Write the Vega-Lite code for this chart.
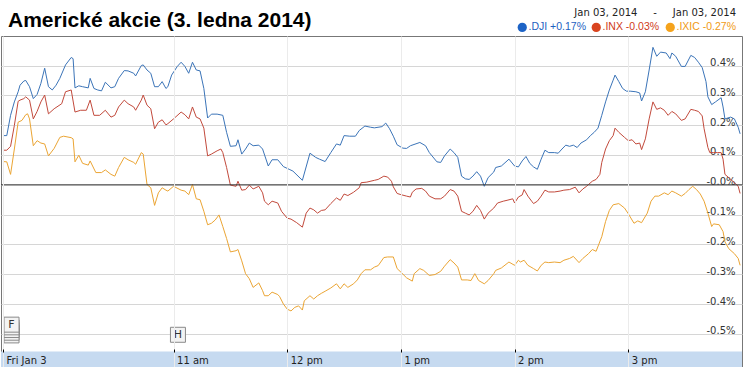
{
  "$schema": "https://vega.github.io/schema/vega-lite/v6.json",
  "width": 743,
  "height": 367,
  "autosize": {"type": "fit", "contains": "padding"},
  "padding": {"top": 10, "bottom": 0, "left": 0, "right": 0},
  "background": "white",
  "title": {"text": "Americké akcie (3. ledna 2014)", "anchor": "start", "frame": "group", "font": "Liberation Sans", "fontSize": 21, "fontWeight": "bold", "color": "#000000", "baseline": "alphabetic", "offset": -12, "dx": 7},
  "config": {"view": {"stroke": "#777777", "strokeWidth": 1}},
  "datasets": {
    "prices": [
{"s":".DJI","t":"2014-01-03T09:30","v":0.165},{"s":".DJI","t":"2014-01-03T09:32","v":0.165},{"s":".DJI","t":"2014-01-03T09:34","v":0.233},{"s":".DJI","t":"2014-01-03T09:36","v":0.278},{"s":".DJI","t":"2014-01-03T09:38","v":0.312},{"s":".DJI","t":"2014-01-03T09:39","v":0.334},{"s":".DJI","t":"2014-01-03T09:41","v":0.348},{"s":".DJI","t":"2014-01-03T09:42","v":0.350},{"s":".DJI","t":"2014-01-03T09:44","v":0.329},{"s":".DJI","t":"2014-01-03T09:46","v":0.289},{"s":".DJI","t":"2014-01-03T09:48","v":0.303},{"s":".DJI","t":"2014-01-03T09:50","v":0.340},{"s":".DJI","t":"2014-01-03T09:52","v":0.391},{"s":".DJI","t":"2014-01-03T09:54","v":0.329},{"s":".DJI","t":"2014-01-03T09:56","v":0.318},{"s":".DJI","t":"2014-01-03T09:58","v":0.334},{"s":".DJI","t":"2014-01-03T10:00","v":0.357},{"s":".DJI","t":"2014-01-03T10:03","v":0.402},{"s":".DJI","t":"2014-01-03T10:06","v":0.427},{"s":".DJI","t":"2014-01-03T10:07","v":0.423},{"s":".DJI","t":"2014-01-03T10:08","v":0.325},{"s":".DJI","t":"2014-01-03T10:10","v":0.332},{"s":".DJI","t":"2014-01-03T10:12","v":0.329},{"s":".DJI","t":"2014-01-03T10:15","v":0.325},{"s":".DJI","t":"2014-01-03T10:16","v":0.357},{"s":".DJI","t":"2014-01-03T10:18","v":0.323},{"s":".DJI","t":"2014-01-03T10:20","v":0.318},{"s":".DJI","t":"2014-01-03T10:22","v":0.315},{"s":".DJI","t":"2014-01-03T10:24","v":0.344},{"s":".DJI","t":"2014-01-03T10:27","v":0.325},{"s":".DJI","t":"2014-01-03T10:29","v":0.329},{"s":".DJI","t":"2014-01-03T10:31","v":0.357},{"s":".DJI","t":"2014-01-03T10:34","v":0.383},{"s":".DJI","t":"2014-01-03T10:36","v":0.382},{"s":".DJI","t":"2014-01-03T10:39","v":0.374},{"s":".DJI","t":"2014-01-03T10:40","v":0.365},{"s":".DJI","t":"2014-01-03T10:43","v":0.400},{"s":".DJI","t":"2014-01-03T10:44","v":0.402},{"s":".DJI","t":"2014-01-03T10:46","v":0.385},{"s":".DJI","t":"2014-01-03T10:48","v":0.374},{"s":".DJI","t":"2014-01-03T10:50","v":0.329},{"s":".DJI","t":"2014-01-03T10:52","v":0.329},{"s":".DJI","t":"2014-01-03T10:54","v":0.346},{"s":".DJI","t":"2014-01-03T10:56","v":0.323},{"s":".DJI","t":"2014-01-03T10:57","v":0.329},{"s":".DJI","t":"2014-01-03T10:59","v":0.368},{"s":".DJI","t":"2014-01-03T11:02","v":0.397},{"s":".DJI","t":"2014-01-03T11:04","v":0.411},{"s":".DJI","t":"2014-01-03T11:06","v":0.397},{"s":".DJI","t":"2014-01-03T11:08","v":0.374},{"s":".DJI","t":"2014-01-03T11:10","v":0.411},{"s":".DJI","t":"2014-01-03T11:12","v":0.385},{"s":".DJI","t":"2014-01-03T11:14","v":0.382},{"s":".DJI","t":"2014-01-03T11:16","v":0.323},{"s":".DJI","t":"2014-01-03T11:18","v":0.224},{"s":".DJI","t":"2014-01-03T11:20","v":0.237},{"s":".DJI","t":"2014-01-03T11:23","v":0.237},{"s":".DJI","t":"2014-01-03T11:26","v":0.233},{"s":".DJI","t":"2014-01-03T11:28","v":0.176},{"s":".DJI","t":"2014-01-03T11:30","v":0.129},{"s":".DJI","t":"2014-01-03T11:33","v":0.131},{"s":".DJI","t":"2014-01-03T11:34","v":0.151},{"s":".DJI","t":"2014-01-03T11:36","v":0.103},{"s":".DJI","t":"2014-01-03T11:38","v":0.120},{"s":".DJI","t":"2014-01-03T11:40","v":0.140},{"s":".DJI","t":"2014-01-03T11:42","v":0.131},{"s":".DJI","t":"2014-01-03T11:45","v":0.133},{"s":".DJI","t":"2014-01-03T11:47","v":0.120},{"s":".DJI","t":"2014-01-03T11:50","v":0.063},{"s":".DJI","t":"2014-01-03T11:52","v":0.084},{"s":".DJI","t":"2014-01-03T11:55","v":0.084},{"s":".DJI","t":"2014-01-03T11:58","v":0.061},{"s":".DJI","t":"2014-01-03T12:01","v":0.052},{"s":".DJI","t":"2014-01-03T12:03","v":0.046},{"s":".DJI","t":"2014-01-03T12:08","v":0.015},{"s":".DJI","t":"2014-01-03T12:12","v":0.106},{"s":".DJI","t":"2014-01-03T12:15","v":0.092},{"s":".DJI","t":"2014-01-03T12:17","v":0.086},{"s":".DJI","t":"2014-01-03T12:20","v":0.078},{"s":".DJI","t":"2014-01-03T12:23","v":0.108},{"s":".DJI","t":"2014-01-03T12:26","v":0.137},{"s":".DJI","t":"2014-01-03T12:28","v":0.133},{"s":".DJI","t":"2014-01-03T12:30","v":0.165},{"s":".DJI","t":"2014-01-03T12:33","v":0.163},{"s":".DJI","t":"2014-01-03T12:36","v":0.163},{"s":".DJI","t":"2014-01-03T12:38","v":0.182},{"s":".DJI","t":"2014-01-03T12:41","v":0.197},{"s":".DJI","t":"2014-01-03T12:44","v":0.193},{"s":".DJI","t":"2014-01-03T12:46","v":0.191},{"s":".DJI","t":"2014-01-03T12:50","v":0.195},{"s":".DJI","t":"2014-01-03T12:52","v":0.207},{"s":".DJI","t":"2014-01-03T12:54","v":0.188},{"s":".DJI","t":"2014-01-03T12:56","v":0.163},{"s":".DJI","t":"2014-01-03T12:58","v":0.134},{"s":".DJI","t":"2014-01-03T13:01","v":0.123},{"s":".DJI","t":"2014-01-03T13:03","v":0.122},{"s":".DJI","t":"2014-01-03T13:05","v":0.131},{"s":".DJI","t":"2014-01-03T13:10","v":0.142},{"s":".DJI","t":"2014-01-03T13:13","v":0.131},{"s":".DJI","t":"2014-01-03T13:15","v":0.108},{"s":".DJI","t":"2014-01-03T13:19","v":0.077},{"s":".DJI","t":"2014-01-03T13:21","v":0.075},{"s":".DJI","t":"2014-01-03T13:23","v":0.097},{"s":".DJI","t":"2014-01-03T13:26","v":0.120},{"s":".DJI","t":"2014-01-03T13:28","v":0.108},{"s":".DJI","t":"2014-01-03T13:30","v":0.092},{"s":".DJI","t":"2014-01-03T13:32","v":0.029},{"s":".DJI","t":"2014-01-03T13:34","v":0.020},{"s":".DJI","t":"2014-01-03T13:36","v":0.018},{"s":".DJI","t":"2014-01-03T13:38","v":0.029},{"s":".DJI","t":"2014-01-03T13:40","v":0.044},{"s":".DJI","t":"2014-01-03T13:42","v":0.029},{"s":".DJI","t":"2014-01-03T13:44","v":-0.005},{"s":".DJI","t":"2014-01-03T13:46","v":0.024},{"s":".DJI","t":"2014-01-03T13:49","v":0.043},{"s":".DJI","t":"2014-01-03T13:50","v":0.058},{"s":".DJI","t":"2014-01-03T13:53","v":0.063},{"s":".DJI","t":"2014-01-03T13:56","v":0.080},{"s":".DJI","t":"2014-01-03T13:57","v":0.086},{"s":".DJI","t":"2014-01-03T14:00","v":0.063},{"s":".DJI","t":"2014-01-03T14:02","v":0.060},{"s":".DJI","t":"2014-01-03T14:04","v":0.080},{"s":".DJI","t":"2014-01-03T14:06","v":0.095},{"s":".DJI","t":"2014-01-03T14:08","v":0.072},{"s":".DJI","t":"2014-01-03T14:10","v":0.060},{"s":".DJI","t":"2014-01-03T14:12","v":0.052},{"s":".DJI","t":"2014-01-03T14:14","v":0.086},{"s":".DJI","t":"2014-01-03T14:16","v":0.116},{"s":".DJI","t":"2014-01-03T14:18","v":0.108},{"s":".DJI","t":"2014-01-03T14:21","v":0.108},{"s":".DJI","t":"2014-01-03T14:23","v":0.106},{"s":".DJI","t":"2014-01-03T14:25","v":0.120},{"s":".DJI","t":"2014-01-03T14:27","v":0.133},{"s":".DJI","t":"2014-01-03T14:29","v":0.129},{"s":".DJI","t":"2014-01-03T14:31","v":0.133},{"s":".DJI","t":"2014-01-03T14:33","v":0.125},{"s":".DJI","t":"2014-01-03T14:35","v":0.140},{"s":".DJI","t":"2014-01-03T14:38","v":0.151},{"s":".DJI","t":"2014-01-03T14:40","v":0.165},{"s":".DJI","t":"2014-01-03T14:42","v":0.176},{"s":".DJI","t":"2014-01-03T14:44","v":0.190},{"s":".DJI","t":"2014-01-03T14:46","v":0.233},{"s":".DJI","t":"2014-01-03T14:48","v":0.278},{"s":".DJI","t":"2014-01-03T14:50","v":0.318},{"s":".DJI","t":"2014-01-03T14:52","v":0.351},{"s":".DJI","t":"2014-01-03T14:53","v":0.368},{"s":".DJI","t":"2014-01-03T14:55","v":0.346},{"s":".DJI","t":"2014-01-03T14:57","v":0.323},{"s":".DJI","t":"2014-01-03T14:59","v":0.314},{"s":".DJI","t":"2014-01-03T15:01","v":0.314},{"s":".DJI","t":"2014-01-03T15:04","v":0.312},{"s":".DJI","t":"2014-01-03T15:06","v":0.308},{"s":".DJI","t":"2014-01-03T15:07","v":0.281},{"s":".DJI","t":"2014-01-03T15:09","v":0.312},{"s":".DJI","t":"2014-01-03T15:11","v":0.385},{"s":".DJI","t":"2014-01-03T15:13","v":0.461},{"s":".DJI","t":"2014-01-03T15:15","v":0.431},{"s":".DJI","t":"2014-01-03T15:17","v":0.445},{"s":".DJI","t":"2014-01-03T15:20","v":0.442},{"s":".DJI","t":"2014-01-03T15:22","v":0.423},{"s":".DJI","t":"2014-01-03T15:23","v":0.442},{"s":".DJI","t":"2014-01-03T15:25","v":0.431},{"s":".DJI","t":"2014-01-03T15:28","v":0.397},{"s":".DJI","t":"2014-01-03T15:30","v":0.397},{"s":".DJI","t":"2014-01-03T15:33","v":0.434},{"s":".DJI","t":"2014-01-03T15:35","v":0.427},{"s":".DJI","t":"2014-01-03T15:37","v":0.411},{"s":".DJI","t":"2014-01-03T15:39","v":0.393},{"s":".DJI","t":"2014-01-03T15:41","v":0.346},{"s":".DJI","t":"2014-01-03T15:42","v":0.295},{"s":".DJI","t":"2014-01-03T15:44","v":0.269},{"s":".DJI","t":"2014-01-03T15:46","v":0.278},{"s":".DJI","t":"2014-01-03T15:49","v":0.292},{"s":".DJI","t":"2014-01-03T15:50","v":0.261},{"s":".DJI","t":"2014-01-03T15:51","v":0.221},{"s":".DJI","t":"2014-01-03T15:54","v":0.227},{"s":".DJI","t":"2014-01-03T15:56","v":0.221},{"s":".DJI","t":"2014-01-03T15:58","v":0.193},{"s":".DJI","t":"2014-01-03T15:59","v":0.171},
{"s":".INX","t":"2014-01-03T09:30","v":0.116},{"s":".INX","t":"2014-01-03T09:32","v":0.116},{"s":".INX","t":"2014-01-03T09:34","v":0.129},{"s":".INX","t":"2014-01-03T09:36","v":0.199},{"s":".INX","t":"2014-01-03T09:38","v":0.280},{"s":".INX","t":"2014-01-03T09:39","v":0.284},{"s":".INX","t":"2014-01-03T09:41","v":0.289},{"s":".INX","t":"2014-01-03T09:42","v":0.295},{"s":".INX","t":"2014-01-03T09:44","v":0.284},{"s":".INX","t":"2014-01-03T09:46","v":0.221},{"s":".INX","t":"2014-01-03T09:48","v":0.246},{"s":".INX","t":"2014-01-03T09:50","v":0.278},{"s":".INX","t":"2014-01-03T09:52","v":0.301},{"s":".INX","t":"2014-01-03T09:54","v":0.238},{"s":".INX","t":"2014-01-03T09:57","v":0.255},{"s":".INX","t":"2014-01-03T10:01","v":0.272},{"s":".INX","t":"2014-01-03T10:03","v":0.312},{"s":".INX","t":"2014-01-03T10:06","v":0.318},{"s":".INX","t":"2014-01-03T10:08","v":0.244},{"s":".INX","t":"2014-01-03T10:11","v":0.250},{"s":".INX","t":"2014-01-03T10:14","v":0.250},{"s":".INX","t":"2014-01-03T10:16","v":0.284},{"s":".INX","t":"2014-01-03T10:18","v":0.233},{"s":".INX","t":"2014-01-03T10:21","v":0.233},{"s":".INX","t":"2014-01-03T10:24","v":0.250},{"s":".INX","t":"2014-01-03T10:27","v":0.227},{"s":".INX","t":"2014-01-03T10:29","v":0.233},{"s":".INX","t":"2014-01-03T10:31","v":0.261},{"s":".INX","t":"2014-01-03T10:34","v":0.284},{"s":".INX","t":"2014-01-03T10:36","v":0.272},{"s":".INX","t":"2014-01-03T10:39","v":0.261},{"s":".INX","t":"2014-01-03T10:40","v":0.250},{"s":".INX","t":"2014-01-03T10:43","v":0.284},{"s":".INX","t":"2014-01-03T10:44","v":0.301},{"s":".INX","t":"2014-01-03T10:46","v":0.267},{"s":".INX","t":"2014-01-03T10:48","v":0.255},{"s":".INX","t":"2014-01-03T10:50","v":0.188},{"s":".INX","t":"2014-01-03T10:52","v":0.210},{"s":".INX","t":"2014-01-03T10:54","v":0.218},{"s":".INX","t":"2014-01-03T10:56","v":0.201},{"s":".INX","t":"2014-01-03T10:57","v":0.205},{"s":".INX","t":"2014-01-03T11:00","v":0.221},{"s":".INX","t":"2014-01-03T11:04","v":0.244},{"s":".INX","t":"2014-01-03T11:06","v":0.235},{"s":".INX","t":"2014-01-03T11:08","v":0.221},{"s":".INX","t":"2014-01-03T11:10","v":0.261},{"s":".INX","t":"2014-01-03T11:12","v":0.227},{"s":".INX","t":"2014-01-03T11:14","v":0.221},{"s":".INX","t":"2014-01-03T11:16","v":0.190},{"s":".INX","t":"2014-01-03T11:18","v":0.097},{"s":".INX","t":"2014-01-03T11:20","v":0.103},{"s":".INX","t":"2014-01-03T11:23","v":0.114},{"s":".INX","t":"2014-01-03T11:25","v":0.120},{"s":".INX","t":"2014-01-03T11:26","v":0.108},{"s":".INX","t":"2014-01-03T11:28","v":0.058},{"s":".INX","t":"2014-01-03T11:30","v":-0.001},{"s":".INX","t":"2014-01-03T11:33","v":-0.005},{"s":".INX","t":"2014-01-03T11:34","v":0.012},{"s":".INX","t":"2014-01-03T11:36","v":-0.018},{"s":".INX","t":"2014-01-03T11:38","v":-0.016},{"s":".INX","t":"2014-01-03T11:40","v":-0.001},{"s":".INX","t":"2014-01-03T11:42","v":-0.014},{"s":".INX","t":"2014-01-03T11:45","v":-0.005},{"s":".INX","t":"2014-01-03T11:47","v":-0.027},{"s":".INX","t":"2014-01-03T11:48","v":-0.055},{"s":".INX","t":"2014-01-03T11:50","v":-0.067},{"s":".INX","t":"2014-01-03T11:52","v":-0.055},{"s":".INX","t":"2014-01-03T11:55","v":-0.061},{"s":".INX","t":"2014-01-03T11:57","v":-0.089},{"s":".INX","t":"2014-01-03T12:00","v":-0.112},{"s":".INX","t":"2014-01-03T12:02","v":-0.115},{"s":".INX","t":"2014-01-03T12:05","v":-0.127},{"s":".INX","t":"2014-01-03T12:08","v":-0.142},{"s":".INX","t":"2014-01-03T12:10","v":-0.095},{"s":".INX","t":"2014-01-03T12:12","v":-0.078},{"s":".INX","t":"2014-01-03T12:14","v":-0.084},{"s":".INX","t":"2014-01-03T12:16","v":-0.095},{"s":".INX","t":"2014-01-03T12:18","v":-0.086},{"s":".INX","t":"2014-01-03T12:20","v":-0.084},{"s":".INX","t":"2014-01-03T12:23","v":-0.063},{"s":".INX","t":"2014-01-03T12:26","v":-0.044},{"s":".INX","t":"2014-01-03T12:28","v":-0.052},{"s":".INX","t":"2014-01-03T12:30","v":-0.031},{"s":".INX","t":"2014-01-03T12:32","v":-0.036},{"s":".INX","t":"2014-01-03T12:35","v":-0.025},{"s":".INX","t":"2014-01-03T12:38","v":-0.010},{"s":".INX","t":"2014-01-03T12:39","v":0.007},{"s":".INX","t":"2014-01-03T12:42","v":0.009},{"s":".INX","t":"2014-01-03T12:46","v":0.015},{"s":".INX","t":"2014-01-03T12:48","v":0.018},{"s":".INX","t":"2014-01-03T12:51","v":0.029},{"s":".INX","t":"2014-01-03T12:53","v":0.026},{"s":".INX","t":"2014-01-03T12:55","v":0.012},{"s":".INX","t":"2014-01-03T12:56","v":-0.007},{"s":".INX","t":"2014-01-03T12:58","v":-0.029},{"s":".INX","t":"2014-01-03T13:00","v":-0.033},{"s":".INX","t":"2014-01-03T13:03","v":-0.038},{"s":".INX","t":"2014-01-03T13:05","v":-0.041},{"s":".INX","t":"2014-01-03T13:06","v":-0.025},{"s":".INX","t":"2014-01-03T13:08","v":-0.014},{"s":".INX","t":"2014-01-03T13:11","v":-0.012},{"s":".INX","t":"2014-01-03T13:13","v":-0.021},{"s":".INX","t":"2014-01-03T13:15","v":-0.038},{"s":".INX","t":"2014-01-03T13:18","v":-0.047},{"s":".INX","t":"2014-01-03T13:21","v":-0.047},{"s":".INX","t":"2014-01-03T13:23","v":-0.038},{"s":".INX","t":"2014-01-03T13:26","v":-0.016},{"s":".INX","t":"2014-01-03T13:28","v":-0.021},{"s":".INX","t":"2014-01-03T13:30","v":-0.038},{"s":".INX","t":"2014-01-03T13:32","v":-0.089},{"s":".INX","t":"2014-01-03T13:34","v":-0.095},{"s":".INX","t":"2014-01-03T13:36","v":-0.101},{"s":".INX","t":"2014-01-03T13:38","v":-0.089},{"s":".INX","t":"2014-01-03T13:40","v":-0.069},{"s":".INX","t":"2014-01-03T13:42","v":-0.086},{"s":".INX","t":"2014-01-03T13:44","v":-0.115},{"s":".INX","t":"2014-01-03T13:46","v":-0.095},{"s":".INX","t":"2014-01-03T13:49","v":-0.078},{"s":".INX","t":"2014-01-03T13:51","v":-0.061},{"s":".INX","t":"2014-01-03T13:54","v":-0.055},{"s":".INX","t":"2014-01-03T13:56","v":-0.052},{"s":".INX","t":"2014-01-03T13:59","v":-0.047},{"s":".INX","t":"2014-01-03T14:00","v":-0.061},{"s":".INX","t":"2014-01-03T14:02","v":-0.041},{"s":".INX","t":"2014-01-03T14:04","v":-0.034},{"s":".INX","t":"2014-01-03T14:05","v":-0.016},{"s":".INX","t":"2014-01-03T14:07","v":-0.038},{"s":".INX","t":"2014-01-03T14:09","v":-0.055},{"s":".INX","t":"2014-01-03T14:10","v":-0.063},{"s":".INX","t":"2014-01-03T14:12","v":-0.055},{"s":".INX","t":"2014-01-03T14:14","v":-0.038},{"s":".INX","t":"2014-01-03T14:16","v":-0.018},{"s":".INX","t":"2014-01-03T14:18","v":-0.024},{"s":".INX","t":"2014-01-03T14:21","v":-0.024},{"s":".INX","t":"2014-01-03T14:24","v":-0.021},{"s":".INX","t":"2014-01-03T14:26","v":-0.018},{"s":".INX","t":"2014-01-03T14:29","v":-0.016},{"s":".INX","t":"2014-01-03T14:32","v":-0.008},{"s":".INX","t":"2014-01-03T14:34","v":-0.027},{"s":".INX","t":"2014-01-03T14:36","v":-0.014},{"s":".INX","t":"2014-01-03T14:38","v":-0.005},{"s":".INX","t":"2014-01-03T14:39","v":0.001},{"s":".INX","t":"2014-01-03T14:41","v":0.012},{"s":".INX","t":"2014-01-03T14:43","v":0.018},{"s":".INX","t":"2014-01-03T14:45","v":0.035},{"s":".INX","t":"2014-01-03T14:46","v":0.075},{"s":".INX","t":"2014-01-03T14:48","v":0.120},{"s":".INX","t":"2014-01-03T14:50","v":0.148},{"s":".INX","t":"2014-01-03T14:52","v":0.165},{"s":".INX","t":"2014-01-03T14:53","v":0.190},{"s":".INX","t":"2014-01-03T14:55","v":0.176},{"s":".INX","t":"2014-01-03T14:58","v":0.159},{"s":".INX","t":"2014-01-03T15:00","v":0.148},{"s":".INX","t":"2014-01-03T15:02","v":0.151},{"s":".INX","t":"2014-01-03T15:04","v":0.137},{"s":".INX","t":"2014-01-03T15:06","v":0.140},{"s":".INX","t":"2014-01-03T15:07","v":0.118},{"s":".INX","t":"2014-01-03T15:09","v":0.154},{"s":".INX","t":"2014-01-03T15:11","v":0.221},{"s":".INX","t":"2014-01-03T15:13","v":0.278},{"s":".INX","t":"2014-01-03T15:15","v":0.253},{"s":".INX","t":"2014-01-03T15:17","v":0.258},{"s":".INX","t":"2014-01-03T15:19","v":0.250},{"s":".INX","t":"2014-01-03T15:21","v":0.233},{"s":".INX","t":"2014-01-03T15:23","v":0.246},{"s":".INX","t":"2014-01-03T15:25","v":0.238},{"s":".INX","t":"2014-01-03T15:28","v":0.216},{"s":".INX","t":"2014-01-03T15:30","v":0.221},{"s":".INX","t":"2014-01-03T15:33","v":0.253},{"s":".INX","t":"2014-01-03T15:35","v":0.250},{"s":".INX","t":"2014-01-03T15:37","v":0.246},{"s":".INX","t":"2014-01-03T15:39","v":0.231},{"s":".INX","t":"2014-01-03T15:40","v":0.188},{"s":".INX","t":"2014-01-03T15:42","v":0.125},{"s":".INX","t":"2014-01-03T15:43","v":0.108},{"s":".INX","t":"2014-01-03T15:45","v":0.108},{"s":".INX","t":"2014-01-03T15:47","v":0.108},{"s":".INX","t":"2014-01-03T15:49","v":0.108},{"s":".INX","t":"2014-01-03T15:50","v":0.086},{"s":".INX","t":"2014-01-03T15:51","v":0.035},{"s":".INX","t":"2014-01-03T15:53","v":0.024},{"s":".INX","t":"2014-01-03T15:56","v":0.007},{"s":".INX","t":"2014-01-03T15:58","v":-0.005},{"s":".INX","t":"2014-01-03T15:59","v":-0.029},
{"s":".IXIC","t":"2014-01-03T09:30","v":0.078},{"s":".IXIC","t":"2014-01-03T09:32","v":0.077},{"s":".IXIC","t":"2014-01-03T09:34","v":0.035},{"s":".IXIC","t":"2014-01-03T09:36","v":0.120},{"s":".IXIC","t":"2014-01-03T09:38","v":0.210},{"s":".IXIC","t":"2014-01-03T09:40","v":0.216},{"s":".IXIC","t":"2014-01-03T09:42","v":0.235},{"s":".IXIC","t":"2014-01-03T09:43","v":0.238},{"s":".IXIC","t":"2014-01-03T09:44","v":0.221},{"s":".IXIC","t":"2014-01-03T09:46","v":0.131},{"s":".IXIC","t":"2014-01-03T09:48","v":0.148},{"s":".IXIC","t":"2014-01-03T09:50","v":0.140},{"s":".IXIC","t":"2014-01-03T09:52","v":0.137},{"s":".IXIC","t":"2014-01-03T09:54","v":0.097},{"s":".IXIC","t":"2014-01-03T09:57","v":0.122},{"s":".IXIC","t":"2014-01-03T10:00","v":0.159},{"s":".IXIC","t":"2014-01-03T10:02","v":0.163},{"s":".IXIC","t":"2014-01-03T10:06","v":0.158},{"s":".IXIC","t":"2014-01-03T10:07","v":0.154},{"s":".IXIC","t":"2014-01-03T10:08","v":0.077},{"s":".IXIC","t":"2014-01-03T10:10","v":0.099},{"s":".IXIC","t":"2014-01-03T10:12","v":0.072},{"s":".IXIC","t":"2014-01-03T10:15","v":0.066},{"s":".IXIC","t":"2014-01-03T10:16","v":0.080},{"s":".IXIC","t":"2014-01-03T10:19","v":0.041},{"s":".IXIC","t":"2014-01-03T10:22","v":0.041},{"s":".IXIC","t":"2014-01-03T10:24","v":0.050},{"s":".IXIC","t":"2014-01-03T10:27","v":0.035},{"s":".IXIC","t":"2014-01-03T10:29","v":0.029},{"s":".IXIC","t":"2014-01-03T10:31","v":0.058},{"s":".IXIC","t":"2014-01-03T10:34","v":0.092},{"s":".IXIC","t":"2014-01-03T10:36","v":0.084},{"s":".IXIC","t":"2014-01-03T10:39","v":0.075},{"s":".IXIC","t":"2014-01-03T10:40","v":0.069},{"s":".IXIC","t":"2014-01-03T10:43","v":0.108},{"s":".IXIC","t":"2014-01-03T10:44","v":0.103},{"s":".IXIC","t":"2014-01-03T10:46","v":0.001},{"s":".IXIC","t":"2014-01-03T10:48","v":-0.010},{"s":".IXIC","t":"2014-01-03T10:50","v":-0.069},{"s":".IXIC","t":"2014-01-03T10:52","v":-0.027},{"s":".IXIC","t":"2014-01-03T10:54","v":-0.010},{"s":".IXIC","t":"2014-01-03T10:56","v":-0.018},{"s":".IXIC","t":"2014-01-03T10:57","v":-0.021},{"s":".IXIC","t":"2014-01-03T11:00","v":-0.005},{"s":".IXIC","t":"2014-01-03T11:04","v":-0.018},{"s":".IXIC","t":"2014-01-03T11:06","v":-0.021},{"s":".IXIC","t":"2014-01-03T11:08","v":-0.033},{"s":".IXIC","t":"2014-01-03T11:10","v":0.001},{"s":".IXIC","t":"2014-01-03T11:12","v":-0.047},{"s":".IXIC","t":"2014-01-03T11:14","v":-0.050},{"s":".IXIC","t":"2014-01-03T11:16","v":-0.089},{"s":".IXIC","t":"2014-01-03T11:18","v":-0.134},{"s":".IXIC","t":"2014-01-03T11:20","v":-0.129},{"s":".IXIC","t":"2014-01-03T11:22","v":-0.118},{"s":".IXIC","t":"2014-01-03T11:24","v":-0.101},{"s":".IXIC","t":"2014-01-03T11:26","v":-0.140},{"s":".IXIC","t":"2014-01-03T11:28","v":-0.180},{"s":".IXIC","t":"2014-01-03T11:30","v":-0.225},{"s":".IXIC","t":"2014-01-03T11:33","v":-0.221},{"s":".IXIC","t":"2014-01-03T11:34","v":-0.217},{"s":".IXIC","t":"2014-01-03T11:36","v":-0.255},{"s":".IXIC","t":"2014-01-03T11:38","v":-0.298},{"s":".IXIC","t":"2014-01-03T11:40","v":-0.315},{"s":".IXIC","t":"2014-01-03T11:42","v":-0.344},{"s":".IXIC","t":"2014-01-03T11:45","v":-0.329},{"s":".IXIC","t":"2014-01-03T11:47","v":-0.355},{"s":".IXIC","t":"2014-01-03T11:48","v":-0.372},{"s":".IXIC","t":"2014-01-03T11:50","v":-0.372},{"s":".IXIC","t":"2014-01-03T11:52","v":-0.360},{"s":".IXIC","t":"2014-01-03T11:55","v":-0.368},{"s":".IXIC","t":"2014-01-03T11:56","v":-0.375},{"s":".IXIC","t":"2014-01-03T11:58","v":-0.400},{"s":".IXIC","t":"2014-01-03T12:00","v":-0.417},{"s":".IXIC","t":"2014-01-03T12:02","v":-0.423},{"s":".IXIC","t":"2014-01-03T12:04","v":-0.411},{"s":".IXIC","t":"2014-01-03T12:06","v":-0.406},{"s":".IXIC","t":"2014-01-03T12:08","v":-0.420},{"s":".IXIC","t":"2014-01-03T12:09","v":-0.389},{"s":".IXIC","t":"2014-01-03T12:12","v":-0.372},{"s":".IXIC","t":"2014-01-03T12:14","v":-0.383},{"s":".IXIC","t":"2014-01-03T12:16","v":-0.372},{"s":".IXIC","t":"2014-01-03T12:18","v":-0.364},{"s":".IXIC","t":"2014-01-03T12:20","v":-0.357},{"s":".IXIC","t":"2014-01-03T12:23","v":-0.346},{"s":".IXIC","t":"2014-01-03T12:26","v":-0.332},{"s":".IXIC","t":"2014-01-03T12:28","v":-0.349},{"s":".IXIC","t":"2014-01-03T12:30","v":-0.332},{"s":".IXIC","t":"2014-01-03T12:32","v":-0.344},{"s":".IXIC","t":"2014-01-03T12:35","v":-0.332},{"s":".IXIC","t":"2014-01-03T12:37","v":-0.319},{"s":".IXIC","t":"2014-01-03T12:39","v":-0.298},{"s":".IXIC","t":"2014-01-03T12:41","v":-0.285},{"s":".IXIC","t":"2014-01-03T12:44","v":-0.285},{"s":".IXIC","t":"2014-01-03T12:46","v":-0.276},{"s":".IXIC","t":"2014-01-03T12:48","v":-0.271},{"s":".IXIC","t":"2014-01-03T12:51","v":-0.244},{"s":".IXIC","t":"2014-01-03T12:53","v":-0.242},{"s":".IXIC","t":"2014-01-03T12:56","v":-0.242},{"s":".IXIC","t":"2014-01-03T12:58","v":-0.281},{"s":".IXIC","t":"2014-01-03T13:00","v":-0.293},{"s":".IXIC","t":"2014-01-03T13:03","v":-0.312},{"s":".IXIC","t":"2014-01-03T13:06","v":-0.323},{"s":".IXIC","t":"2014-01-03T13:07","v":-0.298},{"s":".IXIC","t":"2014-01-03T13:10","v":-0.281},{"s":".IXIC","t":"2014-01-03T13:12","v":-0.287},{"s":".IXIC","t":"2014-01-03T13:15","v":-0.304},{"s":".IXIC","t":"2014-01-03T13:18","v":-0.301},{"s":".IXIC","t":"2014-01-03T13:21","v":-0.290},{"s":".IXIC","t":"2014-01-03T13:23","v":-0.273},{"s":".IXIC","t":"2014-01-03T13:26","v":-0.251},{"s":".IXIC","t":"2014-01-03T13:28","v":-0.262},{"s":".IXIC","t":"2014-01-03T13:30","v":-0.276},{"s":".IXIC","t":"2014-01-03T13:32","v":-0.319},{"s":".IXIC","t":"2014-01-03T13:35","v":-0.319},{"s":".IXIC","t":"2014-01-03T13:37","v":-0.321},{"s":".IXIC","t":"2014-01-03T13:39","v":-0.298},{"s":".IXIC","t":"2014-01-03T13:41","v":-0.321},{"s":".IXIC","t":"2014-01-03T13:44","v":-0.332},{"s":".IXIC","t":"2014-01-03T13:46","v":-0.321},{"s":".IXIC","t":"2014-01-03T13:49","v":-0.298},{"s":".IXIC","t":"2014-01-03T13:50","v":-0.287},{"s":".IXIC","t":"2014-01-03T13:53","v":-0.279},{"s":".IXIC","t":"2014-01-03T13:56","v":-0.264},{"s":".IXIC","t":"2014-01-03T13:57","v":-0.259},{"s":".IXIC","t":"2014-01-03T14:00","v":-0.270},{"s":".IXIC","t":"2014-01-03T14:02","v":-0.253},{"s":".IXIC","t":"2014-01-03T14:03","v":-0.259},{"s":".IXIC","t":"2014-01-03T14:05","v":-0.253},{"s":".IXIC","t":"2014-01-03T14:07","v":-0.270},{"s":".IXIC","t":"2014-01-03T14:10","v":-0.281},{"s":".IXIC","t":"2014-01-03T14:12","v":-0.289},{"s":".IXIC","t":"2014-01-03T14:14","v":-0.270},{"s":".IXIC","t":"2014-01-03T14:16","v":-0.259},{"s":".IXIC","t":"2014-01-03T14:18","v":-0.261},{"s":".IXIC","t":"2014-01-03T14:21","v":-0.259},{"s":".IXIC","t":"2014-01-03T14:24","v":-0.261},{"s":".IXIC","t":"2014-01-03T14:26","v":-0.253},{"s":".IXIC","t":"2014-01-03T14:29","v":-0.247},{"s":".IXIC","t":"2014-01-03T14:31","v":-0.240},{"s":".IXIC","t":"2014-01-03T14:34","v":-0.261},{"s":".IXIC","t":"2014-01-03T14:36","v":-0.247},{"s":".IXIC","t":"2014-01-03T14:39","v":-0.231},{"s":".IXIC","t":"2014-01-03T14:41","v":-0.217},{"s":".IXIC","t":"2014-01-03T14:43","v":-0.223},{"s":".IXIC","t":"2014-01-03T14:46","v":-0.174},{"s":".IXIC","t":"2014-01-03T14:48","v":-0.123},{"s":".IXIC","t":"2014-01-03T14:50","v":-0.086},{"s":".IXIC","t":"2014-01-03T14:52","v":-0.067},{"s":".IXIC","t":"2014-01-03T14:55","v":-0.063},{"s":".IXIC","t":"2014-01-03T14:58","v":-0.078},{"s":".IXIC","t":"2014-01-03T15:00","v":-0.097},{"s":".IXIC","t":"2014-01-03T15:03","v":-0.129},{"s":".IXIC","t":"2014-01-03T15:05","v":-0.121},{"s":".IXIC","t":"2014-01-03T15:07","v":-0.127},{"s":".IXIC","t":"2014-01-03T15:10","v":-0.095},{"s":".IXIC","t":"2014-01-03T15:12","v":-0.055},{"s":".IXIC","t":"2014-01-03T15:14","v":-0.038},{"s":".IXIC","t":"2014-01-03T15:16","v":-0.038},{"s":".IXIC","t":"2014-01-03T15:19","v":-0.027},{"s":".IXIC","t":"2014-01-03T15:21","v":-0.033},{"s":".IXIC","t":"2014-01-03T15:23","v":-0.021},{"s":".IXIC","t":"2014-01-03T15:25","v":-0.027},{"s":".IXIC","t":"2014-01-03T15:28","v":-0.038},{"s":".IXIC","t":"2014-01-03T15:30","v":-0.029},{"s":".IXIC","t":"2014-01-03T15:32","v":-0.016},{"s":".IXIC","t":"2014-01-03T15:34","v":-0.005},{"s":".IXIC","t":"2014-01-03T15:36","v":-0.016},{"s":".IXIC","t":"2014-01-03T15:38","v":-0.031},{"s":".IXIC","t":"2014-01-03T15:40","v":-0.055},{"s":".IXIC","t":"2014-01-03T15:42","v":-0.095},{"s":".IXIC","t":"2014-01-03T15:44","v":-0.140},{"s":".IXIC","t":"2014-01-03T15:45","v":-0.131},{"s":".IXIC","t":"2014-01-03T15:48","v":-0.134},{"s":".IXIC","t":"2014-01-03T15:50","v":-0.157},{"s":".IXIC","t":"2014-01-03T15:51","v":-0.191},{"s":".IXIC","t":"2014-01-03T15:53","v":-0.214},{"s":".IXIC","t":"2014-01-03T15:56","v":-0.231},{"s":".IXIC","t":"2014-01-03T15:58","v":-0.247},{"s":".IXIC","t":"2014-01-03T15:59","v":-0.270}
    ],
    "flags": [
      {"t":"2014-01-03T09:34:30","label":"","lvl":-0.505},
      {"t":"2014-01-03T09:34:30","label":"","lvl":-0.496},
      {"t":"2014-01-03T09:34:30","label":"","lvl":-0.487},
      {"t":"2014-01-03T09:34:30","label":"","lvl":-0.478},
      {"t":"2014-01-03T09:34:30","label":"F","lvl":-0.469},
      {"t":"2014-01-03T11:02:20","label":"H","lvl":-0.503}
    ]
  },
  "layer": [
    {
      "data": {"name": "prices"},
      "mark": {"type": "line", "strokeWidth": 1, "interpolate": "linear"},
      "encoding": {
        "x": {
          "field": "t", "type": "temporal",
          "scale": {"domain": [{"year":2014,"month":1,"date":3,"hours":9,"minutes":28,"seconds":57},{"year":2014,"month":1,"date":3,"hours":16,"minutes":0}], "nice": false},
          "axis": {
            "orient": "bottom", "offset": -15, "title": null, "zindex": 2, "tickCount": 30,
            "values": [{"year":2014,"month":1,"date":3,"hours":9,"minutes":30},{"year":2014,"month":1,"date":3,"hours":11},{"year":2014,"month":1,"date":3,"hours":12},{"year":2014,"month":1,"date":3,"hours":13},{"year":2014,"month":1,"date":3,"hours":14},{"year":2014,"month":1,"date":3,"hours":15}],
            "grid": true, "gridColor": "#ebebeb", "gridWidth": 1,
            "domain": false, "ticks": true, "tickSize": -3, "tickColor": "#000000", "tickWidth": 1,
            "labelAlign": "left", "labelOffset": 3, "labelBaseline": "alphabetic", "labelPadding": 14, "labelFlush": false, "labelOverlap": false,
            "labelFont": "DejaVu Sans", "labelFontSize": 10, "labelColor": "#222222",
            "labelExpr": "hours(datum.value) === 9 ? 'Fri Jan 3' : lower(timeFormat(datum.value, '%-I %p'))"
          }
        },
        "y": {
          "field": "v", "type": "quantitative",
          "scale": {"domain": [-0.611, 0.499], "nice": false, "zero": false},
          "axis": {
            "orient": "right", "title": null, "tickCount": 30,
            "values": [-0.5,-0.4,-0.3,-0.2,-0.1,0,0.1,0.2,0.3,0.4],
            "grid": true, "gridColor": "#d6d6d6", "gridWidth": 1,
            "domain": false, "ticks": false, "labelOverlap": false, "labelFlush": false,
            "labelAlign": "right", "labelPadding": -7, "labelBaseline": "alphabetic",
            "labelFont": "DejaVu Sans", "labelFontSize": 10, "labelColor": "#333333",
            "labelExpr": "datum.value === 0 ? '-0.0%' : (datum.value < 0 ? '-' : '') + format(abs(datum.value), '.1f') + '%'"
          }
        },
        "color": {
          "field": "s", "type": "nominal",
          "scale": {"domain": [".DJI", ".INX", ".IXIC"], "range": ["#3b74b8", "#c24a3c", "#eba534"]},
          "legend": {
            "orient": "none", "legendX": 516, "legendY": -28, "direction": "horizontal", "padding": 0,
            "title": "Jan 03, 2014\u00a0\u00a0\u00a0\u00a0\u00a0-\u00a0\u00a0\u00a0\u00a0\u00a0Jan 03, 2014",
            "titleAnchor": "end", "titleFont": "DejaVu Sans", "titleFontSize": 10, "titleFontWeight": "normal", "titleColor": "#222222", "titlePadding": 4,
            "symbolType": "circle", "symbolSize": 85, "symbolStrokeWidth": 0,
            "labelFont": "Liberation Sans", "labelFontSize": 10.5, "labelOffset": 1, "columnPadding": 5,
            "labelExpr": "datum.label + (datum.label === '.DJI' ? ' +0.17%' : datum.label === '.INX' ? ' -0.03%' : ' -0.27%')",
            "encode": {
              "labels": {"update": {"fill": {"signal": "datum.value === '.DJI' ? '#1d5fbf' : datum.value === '.INX' ? '#cf3a1a' : '#f09a14'"}}},
              "symbols": {"update": {"fill": {"signal": "datum.value === '.DJI' ? '#1d63c6' : datum.value === '.INX' ? '#d9441f' : '#f5a31c'"}, "stroke": {"value": "transparent"}, "opacity": {"value": 1}}}
            }
          }
        }
      }
    },
    {
      "data": {"values": [{}]},
      "mark": {"type": "rule", "color": "#3a3a3a", "strokeWidth": 1},
      "encoding": {"y": {"datum": 0, "type": "quantitative"}}
    },
    {
      "data": {"values": [{}]},
      "mark": {"type": "rect", "color": "#c6daf0"},
      "encoding": {
        "x": {"datum": {"year":2014,"month":1,"date":3,"hours":9,"minutes":28,"seconds":57}, "type": "temporal"},
        "x2": {"datum": {"year":2014,"month":1,"date":3,"hours":16,"minutes":0}},
        "y": {"datum": -0.559, "type": "quantitative"},
        "y2": {"datum": -0.611}
      }
    },
    {
      "data": {"name": "flags"},
      "layer": [
        {
          "mark": {"type": "point", "shape": "square", "size": 225, "filled": true, "fill": "#f3f3f3", "stroke": "#8a8a8a", "strokeWidth": 1, "opacity": 1},
          "encoding": {
            "x": {"field": "t", "type": "temporal"},
            "y": {"field": "lvl", "type": "quantitative"}
          }
        },
        {
          "mark": {"type": "text", "font": "DejaVu Sans", "fontSize": 11, "color": "#333333", "baseline": "middle", "align": "center"},
          "encoding": {
            "x": {"field": "t", "type": "temporal"},
            "y": {"field": "lvl", "type": "quantitative"},
            "text": {"field": "label"}
          }
        }
      ]
    }
  ]
}
